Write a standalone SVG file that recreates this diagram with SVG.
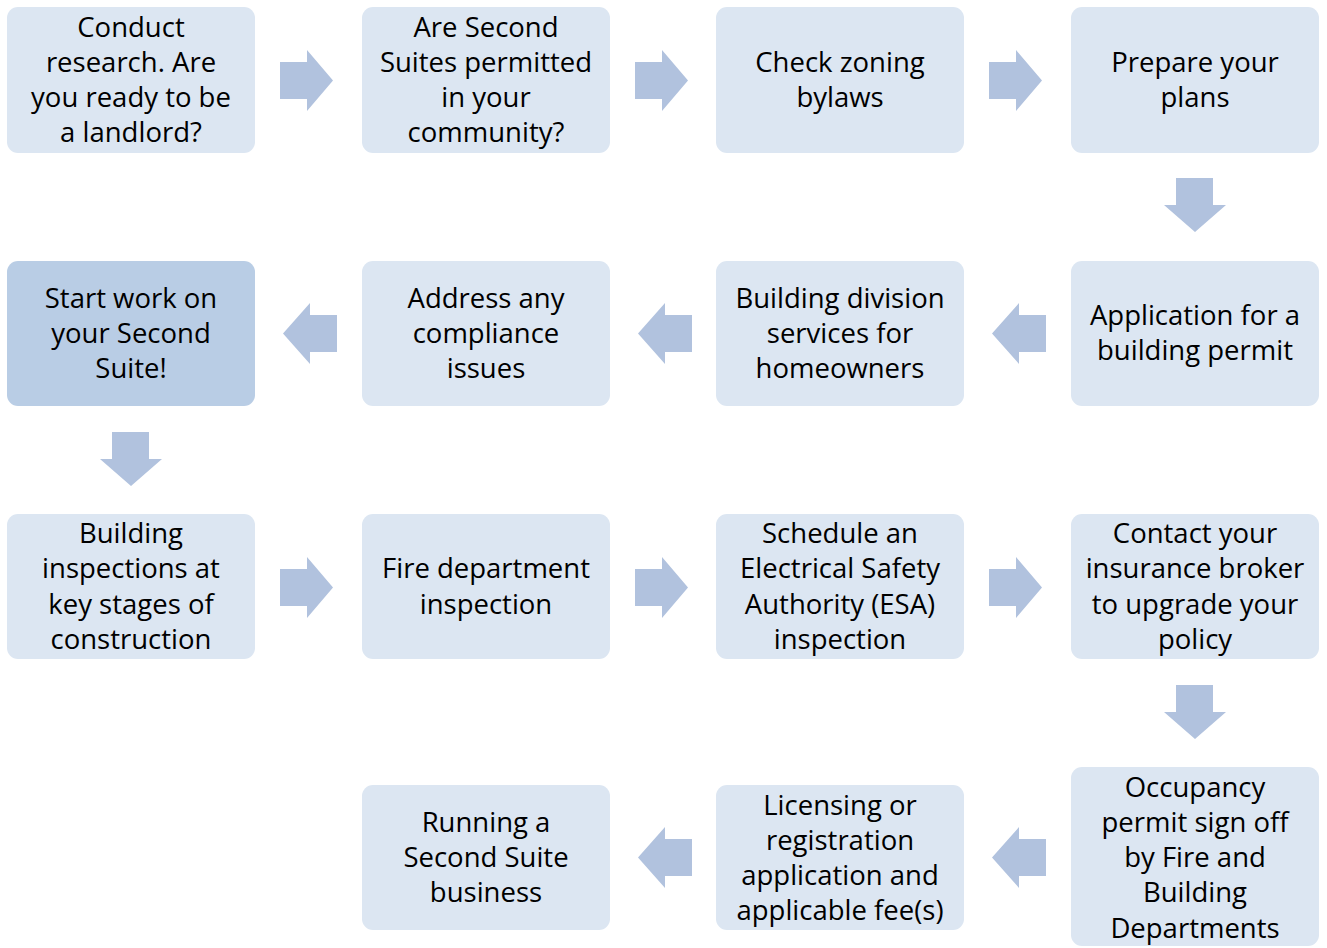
<svg xmlns="http://www.w3.org/2000/svg" width="1327" height="948" viewBox="0 0 1327 948">
<style>
.box{fill:#DCE6F2}
.hl{fill:#B9CDE5}
.arr{fill:#B1C2DE}
text{font-family:"Open Sans",Lato,"Liberation Sans",sans-serif;font-size:27.5px;fill:#000;text-anchor:middle}
</style>
<defs>
<polygon id="ra" points="0,12 27,12 27,0 53,30.5 27,61 27,49 0,49"/>
<polygon id="la" points="0,30.5 27,0 27,12 54,12 54,49 27,49 27,61"/>
<polygon id="da" points="12,0 49,0 49,27 62,27 31,54 0,27 12,27"/>
</defs>
<g id="n1"><rect class="box" x="7" y="7" width="248" height="146" rx="11"/>
<text x="131" y="37">Conduct</text><text x="131" y="72">research. Are</text><text x="131" y="107">you ready to be</text><text x="131" y="142">a landlord?</text></g>
<g id="n2"><rect class="box" x="362" y="7" width="248" height="146" rx="11"/>
<text x="486" y="37">Are Second</text><text x="486" y="72">Suites permitted</text><text x="486" y="107">in your</text><text x="486" y="142">community?</text></g>
<g id="n3"><rect class="box" x="716" y="7" width="248" height="146" rx="11"/>
<text x="840" y="72">Check zoning</text><text x="840" y="107">bylaws</text></g>
<g id="n4"><rect class="box" x="1071" y="7" width="248" height="146" rx="11"/>
<text x="1195" y="72">Prepare your</text><text x="1195" y="107">plans</text></g>
<g id="n5"><rect class="box" x="1071" y="261" width="248" height="145" rx="11"/>
<text x="1195" y="325">Application for a</text><text x="1195" y="360">building permit</text></g>
<g id="n6"><rect class="box" x="716" y="261" width="248" height="145" rx="11"/>
<text x="840" y="308">Building division</text><text x="840" y="343">services for</text><text x="840" y="378">homeowners</text></g>
<g id="n7"><rect class="box" x="362" y="261" width="248" height="145" rx="11"/>
<text x="486" y="308">Address any</text><text x="486" y="343">compliance</text><text x="486" y="378">issues</text></g>
<g id="n8"><rect class="hl" x="7" y="261" width="248" height="145" rx="11"/>
<text x="131" y="308">Start work on</text><text x="131" y="343">your Second</text><text x="131" y="378">Suite!</text></g>
<g id="n9"><rect class="box" x="7" y="514" width="248" height="145" rx="11"/>
<text x="131" y="543">Building</text><text x="131" y="578">inspections at</text><text x="131" y="614">key stages of</text><text x="131" y="649">construction</text></g>
<g id="n10"><rect class="box" x="362" y="514" width="248" height="145" rx="11"/>
<text x="486" y="578">Fire department</text><text x="486" y="614">inspection</text></g>
<g id="n11"><rect class="box" x="716" y="514" width="248" height="145" rx="11"/>
<text x="840" y="543">Schedule an</text><text x="840" y="578">Electrical Safety</text><text x="840" y="614">Authority (ESA)</text><text x="840" y="649">inspection</text></g>
<g id="n12"><rect class="box" x="1071" y="514" width="248" height="145" rx="11"/>
<text x="1195" y="543">Contact your</text><text x="1195" y="578">insurance broker</text><text x="1195" y="614">to upgrade your</text><text x="1195" y="649">policy</text></g>
<g id="n13"><rect class="box" x="1071" y="767" width="248" height="179" rx="11"/>
<text x="1195" y="797">Occupancy</text><text x="1195" y="832">permit sign off</text><text x="1195" y="867">by Fire and</text><text x="1195" y="902">Building</text><text x="1195" y="938">Departments</text></g>
<g id="n14"><rect class="box" x="716" y="785" width="248" height="145" rx="11"/>
<text x="840" y="815">Licensing or</text><text x="840" y="850">registration</text><text x="840" y="885">application and</text><text x="840" y="920">applicable fee(s)</text></g>
<g id="n15"><rect class="box" x="362" y="785" width="248" height="145" rx="11"/>
<text x="486" y="832">Running a</text><text x="486" y="867">Second Suite</text><text x="486" y="902">business</text></g>
<g id="connectors" class="arr">
<use href="#ra" x="280" y="50"/><use href="#ra" x="635" y="50"/><use href="#ra" x="989" y="50"/>
<use href="#da" x="1164" y="178"/>
<use href="#la" x="992" y="303"/><use href="#la" x="638" y="303"/><use href="#la" x="283" y="303"/>
<use href="#da" x="100" y="432"/>
<use href="#ra" x="280" y="557"/><use href="#ra" x="635" y="557"/><use href="#ra" x="989" y="557"/>
<use href="#da" x="1164" y="685"/>
<use href="#la" x="992" y="827"/><use href="#la" x="638" y="827"/>
</g>
</svg>
